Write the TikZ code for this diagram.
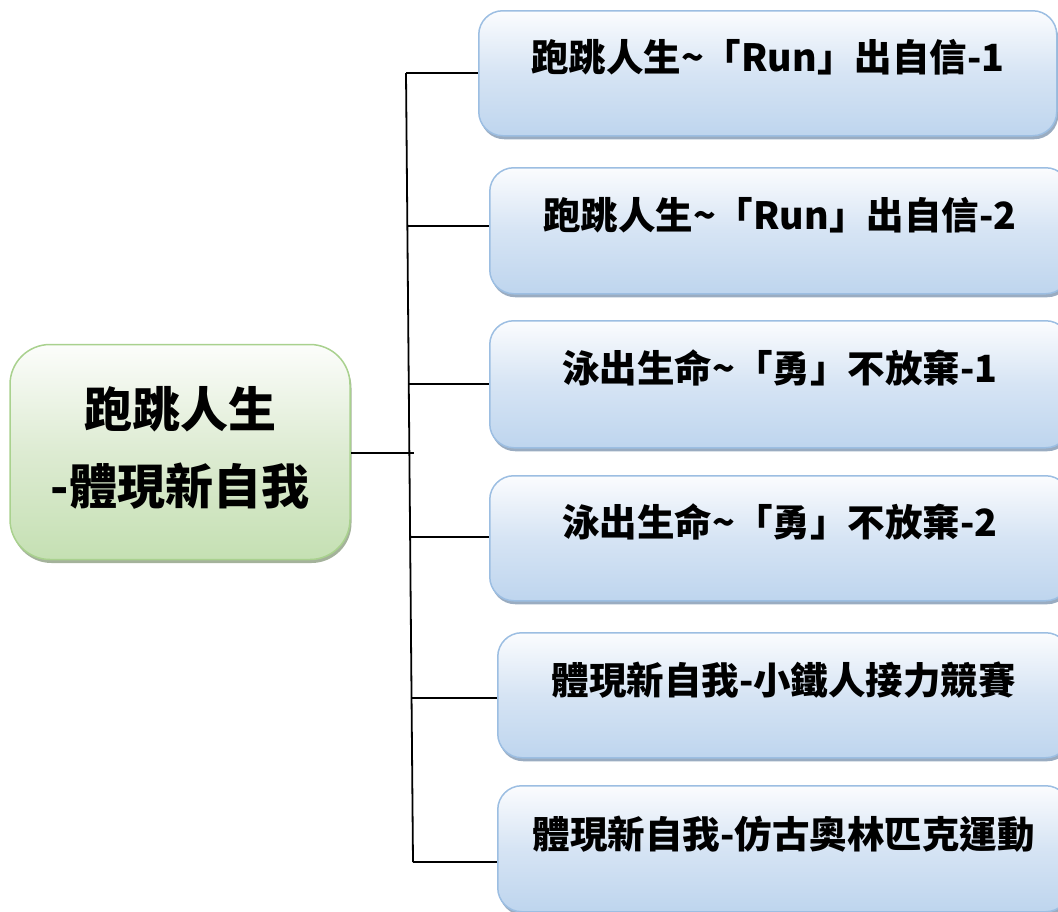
\documentclass[tikz,border=0pt]{standalone}
\usepackage{fontspec}
\newfontfamily\cjk{Noto Sans CJK TC}
\usetikzlibrary{shadows}
\definecolor{bluebd}{HTML}{9CBEE2}
\definecolor{bluetop}{HTML}{FBFCFE}
\definecolor{bluemid}{HTML}{D6E4F4}
\definecolor{bluebot}{HTML}{BED5EE}
\definecolor{blueshadow}{HTML}{8FA3BA}
\definecolor{greenbd}{HTML}{A9D18E}
\definecolor{greentop}{HTML}{FCFDFB}
\definecolor{greenmid}{HTML}{DDEBD2}
\definecolor{greenbot}{HTML}{C5E0B3}
\definecolor{greenshadow}{HTML}{9AAA90}
\begin{document}
\begin{tikzpicture}[x=1pt,y=-1pt,
  rbox/.style={draw=bluebd, line width=1.5pt, rounded corners=24pt, minimum height=125pt,
    inner sep=0pt, anchor=north west, top color=bluetop, bottom color=bluebot, middle color=bluemid,
    drop shadow={shadow xshift=1.5pt, shadow yshift=-3.5pt, fill=blueshadow, opacity=0.9}},
  gbox/.style={draw=greenbd, line width=1.5pt, rounded corners=40pt, minimum width=340pt, minimum height=215pt,
    inner sep=0pt, top color=greentop, bottom color=greenbot, middle color=greenmid,
    drop shadow={shadow xshift=1.5pt, shadow yshift=-3.5pt, fill=greenshadow, opacity=0.9}},
  lbl/.style={font=\cjk\bfseries\fontsize{37.5}{44}\selectfont, inner sep=0pt},
  mlbl/.style={font=\cjk\bfseries\fontsize{48}{77}\selectfont, align=center, inner sep=0pt},
  conn/.style={draw=black, line width=1.8pt}]
\useasboundingbox (0,0) rectangle (1058,911);
% right boxes
\node[rbox, minimum width=578pt, minimum height=125pt] (b1) at (478,10) {};
\node[rbox, minimum width=580pt, minimum height=126pt] (b2) at (489,167) {};
\node[rbox, minimum width=580pt, minimum height=127pt] (b3) at (489,320) {};
\node[rbox, minimum width=580pt, minimum height=125pt] (b4) at (489,475) {};
\node[rbox, minimum width=572pt, minimum height=125pt] (b5) at (497,632) {};
\node[rbox, minimum width=572pt, minimum height=126pt] (b6) at (497,785) {};
\node[lbl] (t1) at ([yshift=16pt]b1.center) {跑跳人生\textasciitilde「Run」出自信-1};
\node[lbl] (t2) at ([yshift=16pt]b2.center) {跑跳人生\textasciitilde「Run」出自信-2};
\node[lbl] (t3) at ([yshift=16pt]b3.center) {泳出生命\textasciitilde「勇」不放棄-1};
\node[lbl] (t4) at ([yshift=16pt]b4.center) {泳出生命\textasciitilde「勇」不放棄-2};
\node[lbl] (t5) at ([yshift=15pt]b5.center) {體現新自我-小鐵人接力競賽};
\node[lbl] (t6) at ([yshift=15pt]b6.center) {體現新自我-仿古奧林匹克運動};
% main box
\node[gbox] (m) at (180,452) {};
\node[mlbl] (mt) at ([yshift=4pt]m.center) {跑跳人生\\-體現新自我};
% trunk
\coordinate (c1) at (406,73);
\coordinate (c2) at (407.4,226);
\coordinate (c3) at (408.8,384);
\coordinate (cm) at (413.5,453);
\coordinate (c4) at (410.1,537);
\coordinate (c5) at (411.5,698);
\coordinate (c6) at (413,862);
\draw[conn] (c1) -- (c6);
\draw[conn] (c1) -- (c1 -| b1.west);
\draw[conn] (c2) -- (c2 -| b2.west);
\draw[conn] (c3) -- (c3 -| b3.west);
\draw[conn] (c4) -- (c4 -| b4.west);
\draw[conn] (c5) -- (c5 -| b5.west);
\draw[conn] (c6) -- (c6 -| b6.west);
\draw[conn] (cm -| m.east) -- (cm);
\end{tikzpicture}
\end{document}
